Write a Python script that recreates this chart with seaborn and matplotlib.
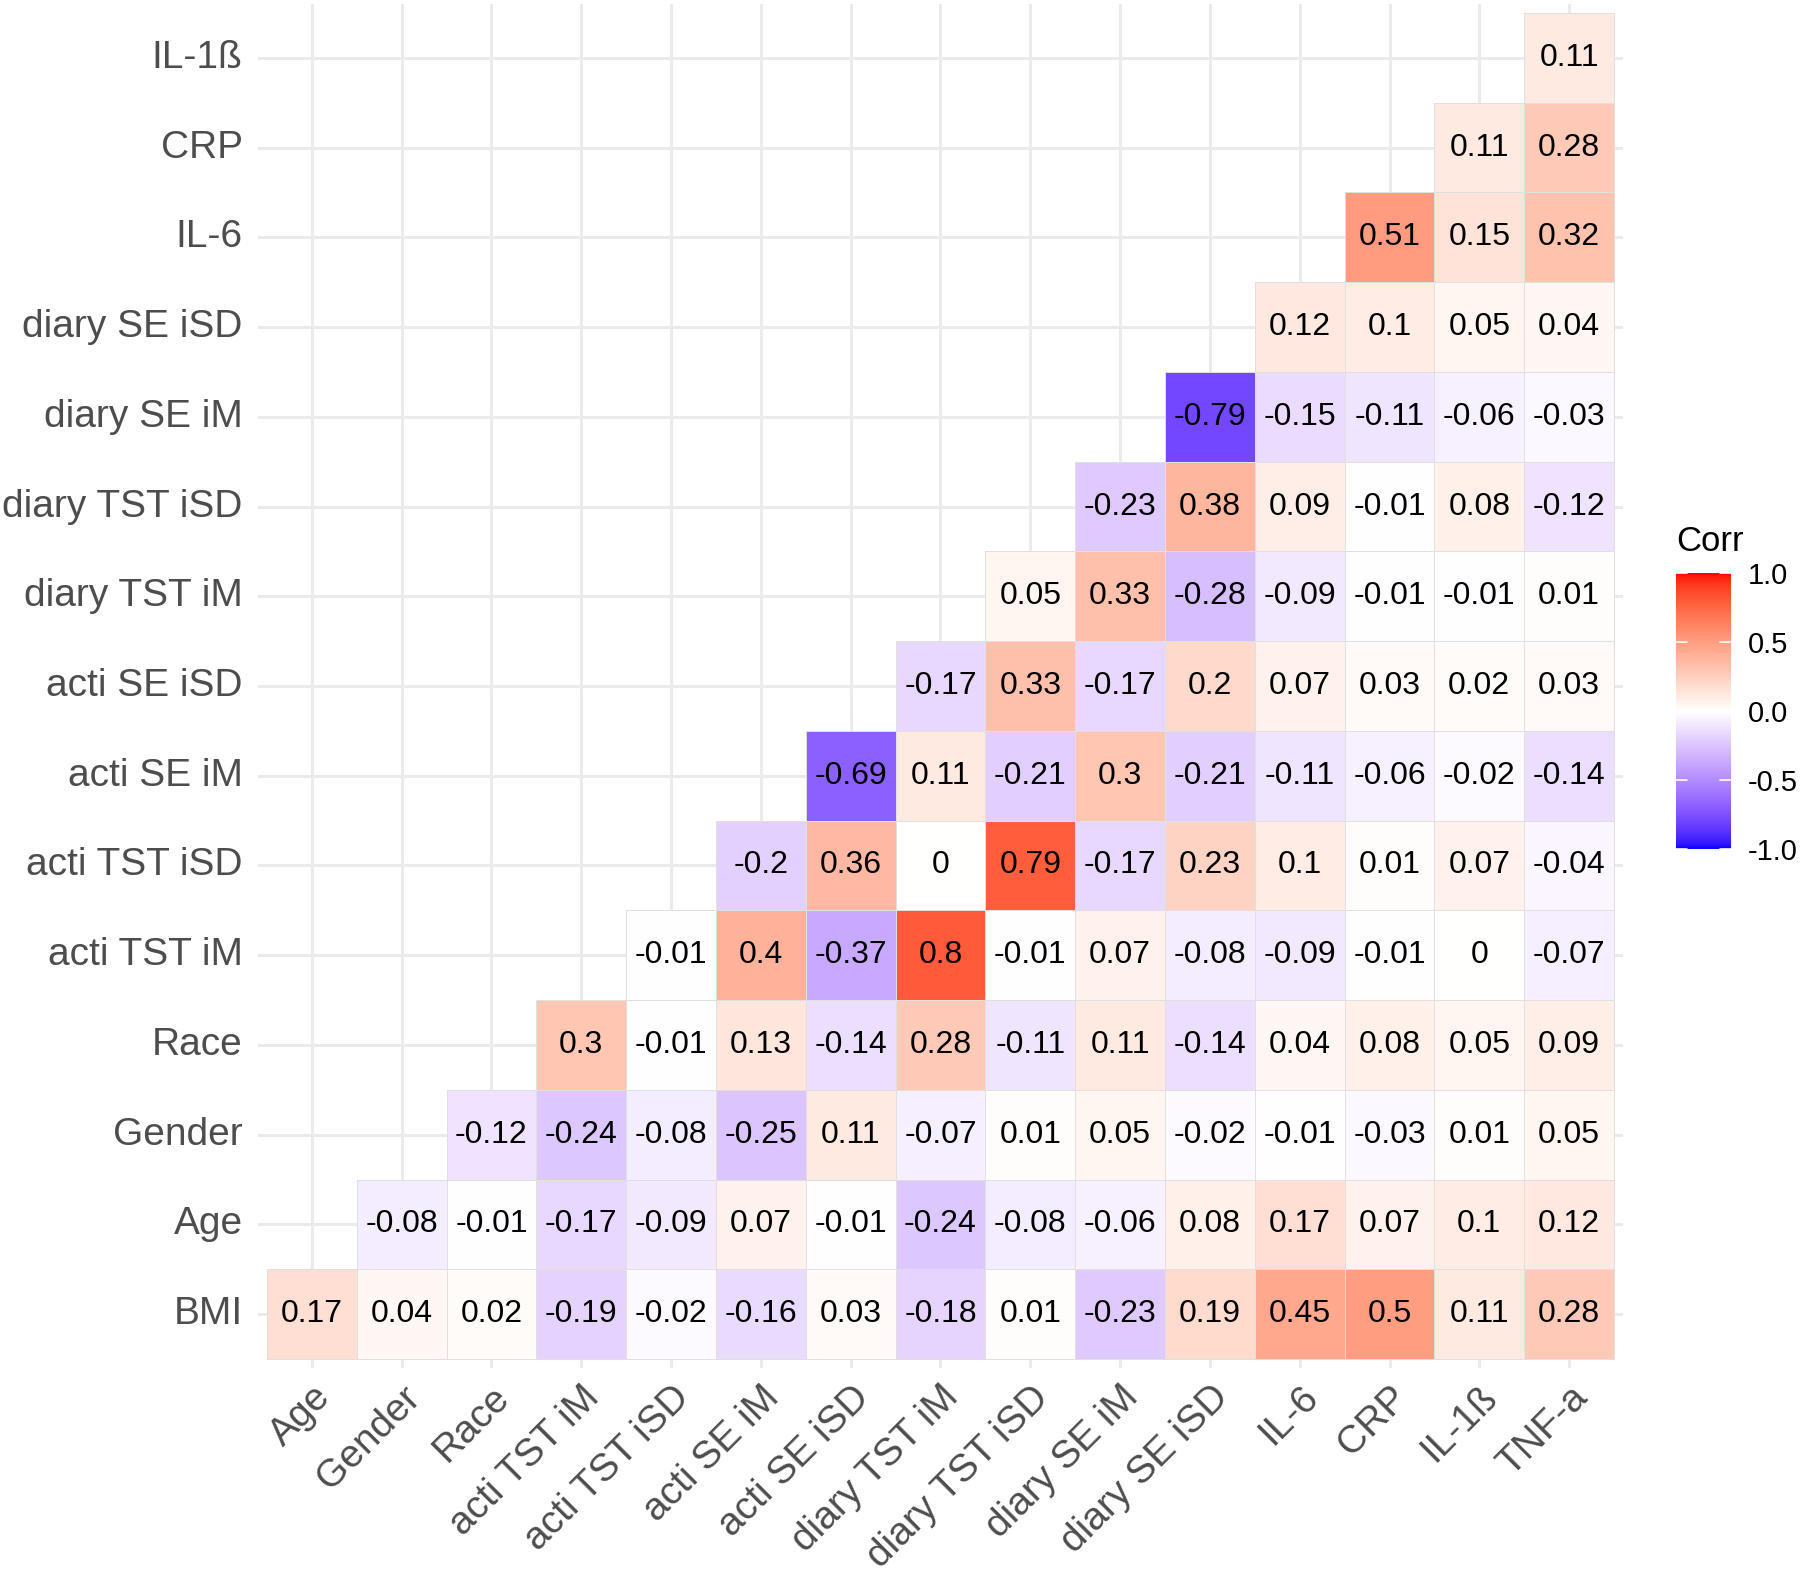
import numpy as np
import seaborn as sns
import matplotlib.pyplot as plt
from matplotlib.colors import ListedColormap, to_rgba

# variables (x axis left->right, y axis bottom->top)
x_labels = ["Age", "Gender", "Race", "acti TST iM", "acti TST iSD", "acti SE iM",
            "acti SE iSD", "diary TST iM", "diary TST iSD", "diary SE iM",
            "diary SE iSD", "IL-6", "CRP", "IL-1ß", "TNF-a"]
y_labels = ["BMI", "Age", "Gender", "Race", "acti TST iM", "acti TST iSD",
            "acti SE iM", "acti SE iSD", "diary TST iM", "diary TST iSD",
            "diary SE iM", "diary SE iSD", "IL-6", "CRP", "IL-1ß"]

# correlations per row, starting at the first shown column of that row
r_bmi = [0.17, 0.04, 0.02, -0.19, -0.02, -0.16, 0.03, -0.18, 0.01, -0.23, 0.19, 0.45, 0.5, 0.11, 0.28]
r_age = [-0.08, -0.01, -0.17, -0.09, 0.07, -0.01, -0.24, -0.08, -0.06, 0.08, 0.17, 0.07, 0.1, 0.12]
r_gender = [-0.12, -0.24, -0.08, -0.25, 0.11, -0.07, 0.01, 0.05, -0.02, -0.01, -0.03, 0.01, 0.05]
r_race = [0.3, -0.01, 0.13, -0.14, 0.28, -0.11, 0.11, -0.14, 0.04, 0.08, 0.05, 0.09]
r_acti_tst_im = [-0.01, 0.4, -0.37, 0.8, -0.01, 0.07, -0.08, -0.09, -0.01, 0, -0.07]
r_acti_tst_isd = [-0.2, 0.36, 0, 0.79, -0.17, 0.23, 0.1, 0.01, 0.07, -0.04]
r_acti_se_im = [-0.69, 0.11, -0.21, 0.3, -0.21, -0.11, -0.06, -0.02, -0.14]
r_acti_se_isd = [-0.17, 0.33, -0.17, 0.2, 0.07, 0.03, 0.02, 0.03]
r_diary_tst_im = [0.05, 0.33, -0.28, -0.09, -0.01, -0.01, 0.01]
r_diary_tst_isd = [-0.23, 0.38, 0.09, -0.01, 0.08, -0.12]
r_diary_se_im = [-0.79, -0.15, -0.11, -0.06, -0.03]
r_diary_se_isd = [0.12, 0.1, 0.05, 0.04]
r_il6 = [0.51, 0.15, 0.32]
r_crp = [0.11, 0.28]
r_il1b = [0.11]

rows = [r_bmi, r_age, r_gender, r_race, r_acti_tst_im, r_acti_tst_isd, r_acti_se_im,
        r_acti_se_isd, r_diary_tst_im, r_diary_tst_isd, r_diary_se_im, r_diary_se_isd,
        r_il6, r_crp, r_il1b]

n = len(x_labels)
mat = np.full((n, n), np.nan)
for i, vals in enumerate(rows):
    mat[i, i:] = vals
# heatmap draws first row at top
mat = mat[::-1]
ylab_top = y_labels[::-1]
annot = np.array([["" if np.isnan(v) else f"{v:g}" for v in r] for r in mat])


# blue-white-red gradient interpolated in Lab space (like scale_fill_gradient2)
def _srgb_to_lab(rgb):
    c = np.array(rgb, float)
    c = np.where(c > 0.04045, ((c + 0.055) / 1.055) ** 2.4, c / 12.92)
    m = np.array([[0.4124, 0.3576, 0.1805], [0.2126, 0.7152, 0.0722], [0.0193, 0.1192, 0.9505]])
    xyz = m @ c / np.array([0.95047, 1.0, 1.08883])
    f = np.where(xyz > 0.008856, np.cbrt(xyz), 7.787 * xyz + 16 / 116)
    return np.array([116 * f[1] - 16, 500 * (f[0] - f[1]), 200 * (f[1] - f[2])])


def _lab_to_srgb(lab):
    L, a, b = lab
    fy = (L + 16) / 116
    f = np.array([fy + a / 500, fy, fy - b / 200])
    xyz = np.where(f ** 3 > 0.008856, f ** 3, (f - 16 / 116) / 7.787) * np.array([0.95047, 1.0, 1.08883])
    m = np.array([[3.2406, -1.5372, -0.4986], [-0.9689, 1.8758, 0.0415], [0.0557, -0.2040, 1.0570]])
    c = m @ xyz
    c = np.where(c > 0.0031308, 1.055 * np.clip(c, 0, None) ** (1 / 2.4) - 0.055, 12.92 * c)
    return np.clip(c, 0, 1)


lab_blue = _srgb_to_lab([0, 0, 1])
lab_white = _srgb_to_lab([1, 1, 1])
lab_red = _srgb_to_lab([1, 0, 0])
cols = []
for v in np.linspace(-1, 1, 512):
    end = lab_blue if v < 0 else lab_red
    cols.append(_lab_to_srgb(lab_white + abs(v) * (end - lab_white)))
cmap = ListedColormap(cols)

sns.set_theme(style="white")
plt.rcParams['font.family'] = ['Liberation Sans', 'DejaVu Sans']
plt.rcParams['axes.unicode_minus'] = False

fig = plt.figure(figsize=(18, 15.74), dpi=100)
ax = fig.add_axes([0.14333, 0.13088, 0.75833, 0.86658])
cax = fig.add_axes([0.9311, 0.4606, 0.0306, 0.1753])

sns.heatmap(mat, ax=ax, cmap=cmap, vmin=-1, vmax=1, annot=annot, fmt="",
            annot_kws={"size": 23, "color": "black"},
            linewidths=0.6, linecolor="#E0E0E0", square=False,
            xticklabels=x_labels, yticklabels=ylab_top,
            cbar_ax=cax)

# outline only the cells that hold a value
mesh = ax.collections[0]
edge = np.array([to_rgba("#E0E0E0") if not np.isnan(v) else (0, 0, 0, 0) for v in mat.ravel()])
mesh.set_edgecolor(edge)

ax.set_xlim(-0.1, n + 0.1)
ax.set_ylim(n + 0.1, -0.1)
ax.set_axisbelow(True)
ax.grid(True, color="#EBEBEB", linewidth=2.2)
for s in ax.spines.values():
    s.set_visible(False)
ax.tick_params(axis="both", length=0, labelsize=28, labelcolor="#4D4D4D")
ax.tick_params(axis="y", pad=11, rotation=0)
ax.tick_params(axis="x", pad=8)
for lab in ax.get_xticklabels():
    lab.set_rotation(45)
    lab.set_ha("right")
    lab.set_va("top")
    lab.set_rotation_mode("anchor")

# colorbar like ggplot legend
cbar = mesh.colorbar
cbar.outline.set_visible(False)
cbar.set_ticks([-1, -0.5, 0, 0.5, 1])
cbar.set_ticklabels(["-1.0", "-0.5", "0.0", "0.5", "1.0"])
cax.tick_params(length=0, labelsize=21, pad=12, labelcolor="black")
for t in [-1, -0.5, 0, 0.5, 1]:
    cax.plot([0, 0.2], [t, t], color="white", lw=1.2, transform=cax.get_yaxis_transform())
    cax.plot([0.8, 1], [t, t], color="white", lw=1.2, transform=cax.get_yaxis_transform())
cax.set_title("Corr", loc="left", fontsize=25, color="black", pad=16)

fig.savefig("out.png", dpi=100)
